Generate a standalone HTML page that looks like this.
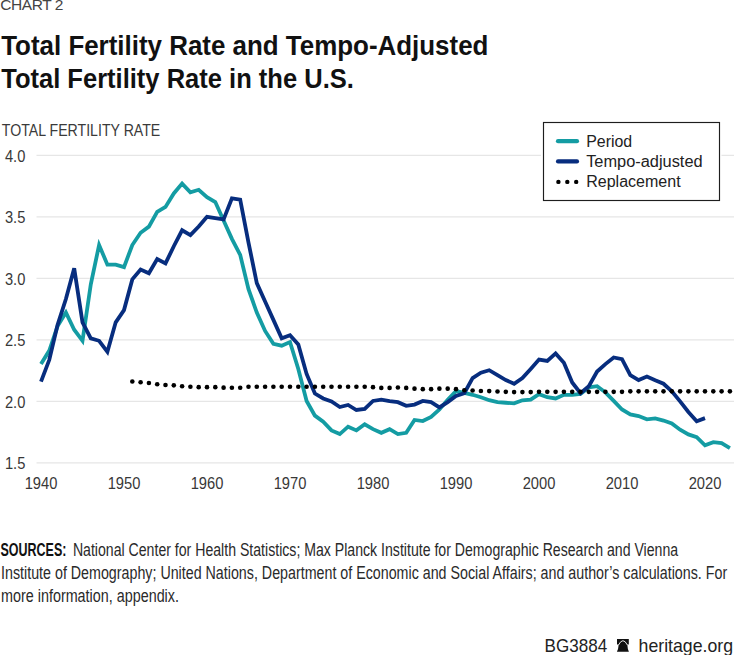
<!DOCTYPE html>
<html><head><meta charset="utf-8"><style>
html,body{margin:0;padding:0;background:#fff;}
body{width:734px;height:655px;overflow:hidden;position:relative;}
svg{position:absolute;left:0;top:0;display:block;}
text{font-family:"Liberation Sans",sans-serif;}
.ax{font-size:16px;fill:#383838;}
</style></head><body>
<svg width="734" height="655" viewBox="0 0 734 655">
<text x="0.3" y="10.3" font-size="15.5" fill="#444" textLength="63.1" lengthAdjust="spacing" transform="translate(0,0)">CHART 2</text>
<text x="1.2" y="54.6" font-size="28.4" font-weight="bold" fill="#111" textLength="487.2" lengthAdjust="spacingAndGlyphs">Total Fertility Rate and Tempo-Adjusted</text>
<text x="1.2" y="87.5" font-size="28.4" font-weight="bold" fill="#111" textLength="352.7" lengthAdjust="spacingAndGlyphs">Total Fertility Rate in the U.S.</text>
<text x="1.85" y="136.3" font-size="16" fill="#3a3a3a" textLength="158.45" lengthAdjust="spacingAndGlyphs">TOTAL FERTILITY RATE</text>
<line x1="36.5" y1="155.40" x2="734" y2="155.40" stroke="#e6e6e6" stroke-width="1.4"/><line x1="36.5" y1="216.90" x2="734" y2="216.90" stroke="#e6e6e6" stroke-width="1.4"/><line x1="36.5" y1="278.40" x2="734" y2="278.40" stroke="#e6e6e6" stroke-width="1.4"/><line x1="36.5" y1="339.90" x2="734" y2="339.90" stroke="#e6e6e6" stroke-width="1.4"/><line x1="36.5" y1="401.40" x2="734" y2="401.40" stroke="#e6e6e6" stroke-width="1.4"/><line x1="36.5" y1="462.90" x2="734" y2="462.90" stroke="#e6e6e6" stroke-width="1.4"/>
<text x="4.9" y="161.50" textLength="20.4" lengthAdjust="spacingAndGlyphs" class="ax">4.0</text><text x="4.9" y="223.00" textLength="20.4" lengthAdjust="spacingAndGlyphs" class="ax">3.5</text><text x="4.9" y="284.50" textLength="20.4" lengthAdjust="spacingAndGlyphs" class="ax">3.0</text><text x="4.9" y="346.00" textLength="20.4" lengthAdjust="spacingAndGlyphs" class="ax">2.5</text><text x="4.9" y="407.50" textLength="20.4" lengthAdjust="spacingAndGlyphs" class="ax">2.0</text><text x="4.9" y="469.00" textLength="20.4" lengthAdjust="spacingAndGlyphs" class="ax">1.5</text>
<text x="24.65" y="488.8" textLength="32.7" lengthAdjust="spacingAndGlyphs" class="ax">1940</text><text x="107.65" y="488.8" textLength="32.7" lengthAdjust="spacingAndGlyphs" class="ax">1950</text><text x="190.65" y="488.8" textLength="32.7" lengthAdjust="spacingAndGlyphs" class="ax">1960</text><text x="273.65" y="488.8" textLength="32.7" lengthAdjust="spacingAndGlyphs" class="ax">1970</text><text x="356.65" y="488.8" textLength="32.7" lengthAdjust="spacingAndGlyphs" class="ax">1980</text><text x="439.65" y="488.8" textLength="32.7" lengthAdjust="spacingAndGlyphs" class="ax">1990</text><text x="522.65" y="488.8" textLength="32.7" lengthAdjust="spacingAndGlyphs" class="ax">2000</text><text x="605.65" y="488.8" textLength="32.7" lengthAdjust="spacingAndGlyphs" class="ax">2010</text><text x="688.65" y="488.8" textLength="32.7" lengthAdjust="spacingAndGlyphs" class="ax">2020</text>
<polyline points="41.00,364.09 49.30,350.59 57.60,326.04 65.90,312.53 74.20,329.72 82.50,340.77 90.80,284.30 99.10,245.01 107.40,264.66 115.70,264.66 124.00,267.11 132.30,245.01 140.60,232.74 148.90,226.60 157.20,211.87 165.50,206.96 173.80,193.46 182.10,183.63 190.40,192.23 198.70,189.77 207.00,197.14 215.30,202.05 223.60,220.46 231.90,238.88 240.20,254.84 248.50,289.21 256.80,312.53 265.10,330.95 273.40,343.84 281.70,345.68 290.00,342.00 298.30,369.00 306.60,400.92 314.90,415.65 323.20,421.79 331.50,430.38 339.80,434.07 348.10,426.70 356.40,430.38 364.70,424.24 373.00,429.15 381.30,432.84 389.60,429.15 397.90,434.07 406.20,432.84 414.50,419.95 422.80,421.05 431.10,416.88 439.40,409.51 447.70,399.69 456.00,391.10 464.30,392.94 472.60,394.78 480.90,397.24 489.20,400.18 497.50,402.15 505.80,402.76 514.10,403.38 522.40,400.31 530.70,399.69 539.00,394.17 547.30,397.24 555.60,398.46 563.90,394.78 572.20,394.78 580.50,393.92 588.80,387.42 597.10,386.19 605.40,392.33 613.70,400.92 622.00,409.51 630.30,414.42 638.60,416.02 646.90,419.33 655.20,418.47 663.50,420.56 671.80,423.39 680.10,429.77 688.40,434.43 696.70,437.13 705.00,445.36 713.30,442.17 721.60,443.15 729.90,448.06" fill="none" stroke="#149ca3" stroke-width="3.8"/>
<polyline points="41.00,381.65 49.30,359.80 57.60,324.81 65.90,299.03 74.20,268.34 82.50,322.35 90.80,338.31 99.10,340.77 107.40,351.82 115.70,322.35 124.00,310.08 132.30,279.39 140.60,269.57 148.90,273.25 157.20,259.13 165.50,263.43 173.80,246.24 182.10,230.28 190.40,235.19 198.70,226.60 207.00,216.78 215.30,218.01 223.60,219.48 231.90,198.37 240.20,199.59 248.50,242.56 256.80,283.07 265.10,301.48 273.40,319.90 281.70,338.31 290.00,335.24 298.30,344.45 306.60,373.91 314.90,393.55 323.20,398.46 331.50,401.53 339.80,407.06 348.10,404.97 356.40,410.00 364.70,408.90 373.00,400.92 381.30,399.69 389.60,401.17 397.90,402.15 406.20,405.83 414.50,404.60 422.80,400.92 431.10,402.15 439.40,407.43 447.70,402.15 456.00,396.01 464.30,393.19 472.60,378.09 480.90,372.69 489.20,370.23 497.50,375.14 505.80,380.05 514.10,383.73 522.40,378.09 530.70,369.00 539.00,359.55 547.30,360.90 555.60,353.41 563.90,362.86 572.20,382.51 580.50,393.19 588.80,386.19 597.10,371.46 605.40,364.09 613.70,357.46 622.00,359.18 630.30,375.14 638.60,380.05 646.90,376.61 655.20,380.30 663.50,383.73 671.80,391.34 680.10,401.41 688.40,411.97 696.70,421.18 705.00,418.11" fill="none" stroke="#072d7e" stroke-width="3.8"/>
<g fill="#000"><circle cx="132.30" cy="381.52" r="2.3"/><circle cx="140.60" cy="382.26" r="2.3"/><circle cx="148.90" cy="383.00" r="2.3"/><circle cx="157.20" cy="384.22" r="2.3"/><circle cx="165.50" cy="384.96" r="2.3"/><circle cx="173.80" cy="385.33" r="2.3"/><circle cx="182.10" cy="386.19" r="2.3"/><circle cx="190.40" cy="386.80" r="2.3"/><circle cx="198.70" cy="387.17" r="2.3"/><circle cx="207.00" cy="387.17" r="2.3"/><circle cx="215.30" cy="387.17" r="2.3"/><circle cx="223.60" cy="387.66" r="2.3"/><circle cx="231.90" cy="387.78" r="2.3"/><circle cx="240.20" cy="387.78" r="2.3"/><circle cx="248.50" cy="386.68" r="2.3"/><circle cx="256.80" cy="386.68" r="2.3"/><circle cx="265.10" cy="386.68" r="2.3"/><circle cx="273.40" cy="386.68" r="2.3"/><circle cx="281.70" cy="386.68" r="2.3"/><circle cx="290.00" cy="386.68" r="2.3"/><circle cx="298.30" cy="386.68" r="2.3"/><circle cx="306.60" cy="386.68" r="2.3"/><circle cx="314.90" cy="386.68" r="2.3"/><circle cx="323.20" cy="386.68" r="2.3"/><circle cx="331.50" cy="386.68" r="2.3"/><circle cx="339.80" cy="386.68" r="2.3"/><circle cx="348.10" cy="386.68" r="2.3"/><circle cx="356.40" cy="386.68" r="2.3"/><circle cx="364.70" cy="386.68" r="2.3"/><circle cx="373.00" cy="387.17" r="2.3"/><circle cx="381.30" cy="387.91" r="2.3"/><circle cx="389.60" cy="387.91" r="2.3"/><circle cx="397.90" cy="387.54" r="2.3"/><circle cx="406.20" cy="387.91" r="2.3"/><circle cx="414.50" cy="388.64" r="2.3"/><circle cx="422.80" cy="389.14" r="2.3"/><circle cx="431.10" cy="389.14" r="2.3"/><circle cx="439.40" cy="388.64" r="2.3"/><circle cx="447.70" cy="388.64" r="2.3"/><circle cx="456.00" cy="389.14" r="2.3"/><circle cx="464.30" cy="390.24" r="2.3"/><circle cx="472.60" cy="390.49" r="2.3"/><circle cx="480.90" cy="390.98" r="2.3"/><circle cx="489.20" cy="391.10" r="2.3"/><circle cx="497.50" cy="391.47" r="2.3"/><circle cx="505.80" cy="391.84" r="2.3"/><circle cx="514.10" cy="392.08" r="2.3"/><circle cx="522.40" cy="392.08" r="2.3"/><circle cx="530.70" cy="392.08" r="2.3"/><circle cx="539.00" cy="391.84" r="2.3"/><circle cx="547.30" cy="391.84" r="2.3"/><circle cx="555.60" cy="391.84" r="2.3"/><circle cx="563.90" cy="391.84" r="2.3"/><circle cx="572.20" cy="391.84" r="2.3"/><circle cx="580.50" cy="391.84" r="2.3"/><circle cx="588.80" cy="391.84" r="2.3"/><circle cx="597.10" cy="391.84" r="2.3"/><circle cx="605.40" cy="391.84" r="2.3"/><circle cx="613.70" cy="391.84" r="2.3"/><circle cx="622.00" cy="391.84" r="2.3"/><circle cx="630.30" cy="391.34" r="2.3"/><circle cx="638.60" cy="391.34" r="2.3"/><circle cx="646.90" cy="391.34" r="2.3"/><circle cx="655.20" cy="391.34" r="2.3"/><circle cx="663.50" cy="391.34" r="2.3"/><circle cx="671.80" cy="391.34" r="2.3"/><circle cx="680.10" cy="391.34" r="2.3"/><circle cx="688.40" cy="391.34" r="2.3"/><circle cx="696.70" cy="391.34" r="2.3"/><circle cx="705.00" cy="391.34" r="2.3"/><circle cx="713.30" cy="391.34" r="2.3"/><circle cx="721.60" cy="391.34" r="2.3"/><circle cx="729.90" cy="391.34" r="2.3"/></g>
<rect x="541" y="120.5" width="180.5" height="82" fill="#fff"/>
<rect x="543.5" y="122.5" width="176" height="78" fill="#fff" stroke="#1e1e1e" stroke-width="1.15"/>
<line x1="558" y1="141.2" x2="577" y2="141.2" stroke="#149ca3" stroke-width="4.2" stroke-linecap="round"/>
<line x1="558" y1="161.4" x2="577" y2="161.4" stroke="#072d7e" stroke-width="4.2" stroke-linecap="round"/>
<circle cx="558.4" cy="181.9" r="2.2"/><circle cx="567.3" cy="181.9" r="2.2"/><circle cx="576.2" cy="181.9" r="2.2"/>
<text x="586.2" y="147.1" font-size="16" fill="#222" textLength="46" lengthAdjust="spacingAndGlyphs">Period</text>
<text x="586.2" y="167.0" font-size="16" fill="#222" textLength="116.4" lengthAdjust="spacingAndGlyphs">Tempo-adjusted</text>
<text x="586.2" y="187.3" font-size="16" fill="#222" textLength="94.4" lengthAdjust="spacingAndGlyphs">Replacement</text>
<text x="0.5" y="556.0" font-size="17.5" font-weight="bold" fill="#111" textLength="65.9" lengthAdjust="spacingAndGlyphs">SOURCES:</text>
<text x="72.9" y="556.0" font-size="17.5" fill="#2a2a2a" textLength="605.2" lengthAdjust="spacingAndGlyphs">National Center for Health Statistics; Max Planck Institute for Demographic Research and Vienna</text>
<text x="1.07" y="578.7" font-size="17.5" fill="#2a2a2a" textLength="726.1" lengthAdjust="spacingAndGlyphs">Institute of Demography; United Nations, Department of Economic and Social Affairs; and author’s calculations. For</text>
<text x="1.07" y="601.5" font-size="17.5" fill="#2a2a2a" textLength="177.9" lengthAdjust="spacingAndGlyphs">more information, appendix.</text>
<path d="M617,639 L628.8,639 L628.8,644.5 L627.3,644.5 Q627.6,649.6 628.9,651.8 L616.9,651.8 Q618.3,649.6 618.7,644.5 L617,644.5 Z" fill="#111"/>
<path d="M618.5,645 Q622.9,636.4 627.4,645" fill="none" stroke="#fff" stroke-width="0.9"/>
<text x="544.6" y="651.8" font-size="17.8" fill="#222" textLength="62.6" lengthAdjust="spacingAndGlyphs">BG3884</text>
<text x="638.6" y="651.6" font-size="18.2" fill="#222" textLength="94.4" lengthAdjust="spacingAndGlyphs">heritage.org</text>
</svg>
</body></html>
